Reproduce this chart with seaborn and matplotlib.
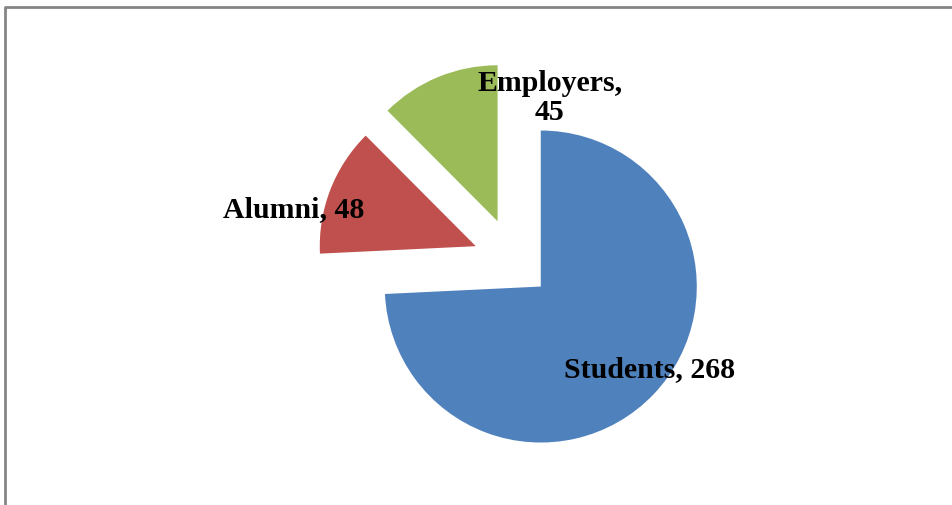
import matplotlib
matplotlib.use("Agg")
import matplotlib.pyplot as plt
import seaborn as sns

sns.set_theme(style="white")
plt.rcParams["font.family"] = ["Liberation Serif", "DejaVu Serif"]

# Respondent groups
categories = ["Students", "Alumni", "Employers"]
counts = [268, 48, 45]
colors = ["#4F81BD", "#C0504D", "#9BBB59"]

W, H = 953, 506
fig = plt.figure(figsize=(W / 100, H / 100), dpi=100)
ax = fig.add_axes([0, 0, 1, 1])

# Pie in pixel-like data units; explode offsets are in the same units
radius = 156
center = (514, H - 262)
explode = [37, 41, 43]
ax.pie(counts, colors=colors, radius=radius, center=center, explode=explode,
       startangle=90, counterclock=False, frame=True,
       wedgeprops=dict(linewidth=0))
ax.set_xlim(0, W)
ax.set_ylim(0, H)
ax.set_aspect("equal")
ax.axis("off")

# Data labels "name, value"
label_pos = {
    "Students": (650, H - 370, "{}, {}"),
    "Alumni": (294, H - 210, "{}, {}"),
    "Employers": (550, H - 98, "{},\n{}"),
}
for name, val in zip(categories, counts):
    x, y, fmt = label_pos[name]
    ax.text(x, y, fmt.format(name, val), ha="center", va="center",
            fontsize=21.5, fontweight="bold", color="black",
            linespacing=1.12)

# Chart frame (left and top edges visible)
ax.plot([5, 5, W + 5], [0, H - 7.5, H - 7.5], color="#858585", lw=2,
        solid_capstyle="butt", clip_on=False)

fig.savefig("out.png", dpi=100, facecolor="white")
